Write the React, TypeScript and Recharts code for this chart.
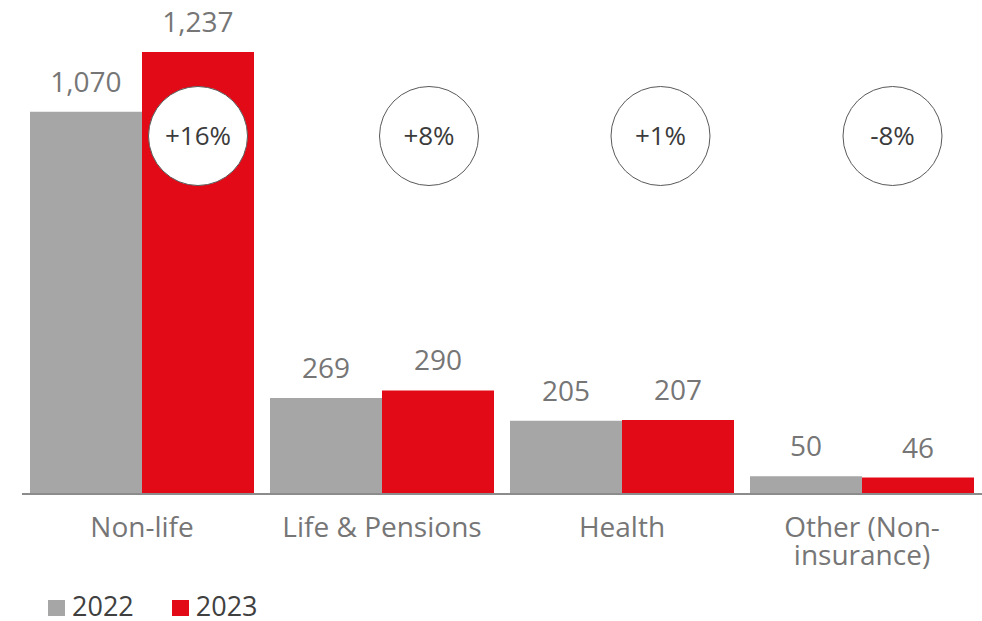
import { BarChart, Bar, XAxis, YAxis, Legend, LabelList } from "recharts";

const categories = ["Non-life", "Life & Pensions", "Health", "Other (Non-insurance)"];
const tickLines = [["Non-life"], ["Life & Pensions"], ["Health"], ["Other (Non-", "insurance)"]];
const values2022 = [1070, 269, 205, 50];
const values2023 = [1237, 290, 207, 46];
const changes = ["+16%", "+8%", "+1%", "-8%"];

const data = categories.map((name, i) => ({
  name,
  y2022: values2022[i],
  y2023: values2023[i],
  change: changes[i],
}));

const GREY = "#a6a6a6";
const RED = "#e20a17";
const FONT = "'Open Sans', sans-serif";

// bubbles sit at a fixed height, drifting left of the 2023 bar centre
const BUBBLE_Y = 136;
const BUBBLE_DX = [0, -9, -17.5, -25.5];

const Bubble = (props: any) => {
  const { x, width, index, value } = props;
  const cx = x + width / 2 + BUBBLE_DX[index];
  return (
    <g>
      <circle cx={cx} cy={BUBBLE_Y} r={49.5} fill="#fff" stroke="#595959" strokeWidth={1} />
      <text x={cx} y={BUBBLE_Y + 9} textAnchor="middle" fontSize={26} fill="#3b3b3b" fontFamily={FONT}>
        {value}
      </text>
    </g>
  );
};

const Tick = (props: any) => {
  const { x, y, index } = props;
  const lines = tickLines[index] ?? [];
  return (
    <text x={x} y={y} textAnchor="middle" fontSize={28} fill="#767676" fontFamily={FONT}>
      {lines.map((l, i) => (
        <tspan key={i} x={x} dy={i === 0 ? 43 : 28}>
          {l}
        </tspan>
      ))}
    </text>
  );
};

const LegendContent = () => (
  <div style={{ height: 42, display: "flex", alignItems: "flex-start", fontFamily: FONT }}>
    <div style={{ display: "flex", alignItems: "center", marginTop: 13, paddingLeft: 48 }}>
      <span style={{ width: 17, height: 16, background: GREY, marginRight: 7, marginTop: 4 }} />
      <span style={{ fontSize: 27, lineHeight: "28px", color: "#404040" }}>2022</span>
      <span style={{ width: 17, height: 16, background: RED, marginLeft: 38, marginRight: 7, marginTop: 4 }} />
      <span style={{ fontSize: 27, lineHeight: "28px", color: "#404040" }}>2023</span>
    </div>
  </div>
);

export default function App() {
  return (
    <div style={{ position: "absolute", left: 0, top: 0, background: "#fff" }}>
      <BarChart
        width={982}
        height={621}
        data={data}
        margin={{ top: 52, right: 0, left: 22, bottom: 0 }}
        barCategoryGap={8}
        barGap={0}
      >
        <XAxis
          dataKey="name"
          height={85}
          tickLine={false}
          tickSize={0}
          tickMargin={0}
          interval={0}
          axisLine={{ stroke: "#8c8c8c", strokeWidth: 2 }}
          tick={<Tick />}
        />
        <YAxis hide domain={[0, "dataMax"]} />
        <Legend verticalAlign="bottom" content={<LegendContent />} wrapperStyle={{ left: 0, bottom: 0, width: 400 }} />
        <Bar dataKey="y2022" name="2022" fill={GREY} isAnimationActive={false}>
          <LabelList
            dataKey="y2022"
            position="top"
            offset={20}
            fontSize={28}
            fill="#767676"
            fontFamily={FONT}
            formatter={(v: any) => Number(v).toLocaleString("en-US")}
          />
        </Bar>
        <Bar dataKey="y2023" name="2023" fill={RED} isAnimationActive={false}>
          <LabelList
            dataKey="y2023"
            position="top"
            offset={20}
            fontSize={28}
            fill="#767676"
            fontFamily={FONT}
            formatter={(v: any) => Number(v).toLocaleString("en-US")}
          />
          <LabelList dataKey="change" content={<Bubble />} />
        </Bar>
      </BarChart>
    </div>
  );
}
